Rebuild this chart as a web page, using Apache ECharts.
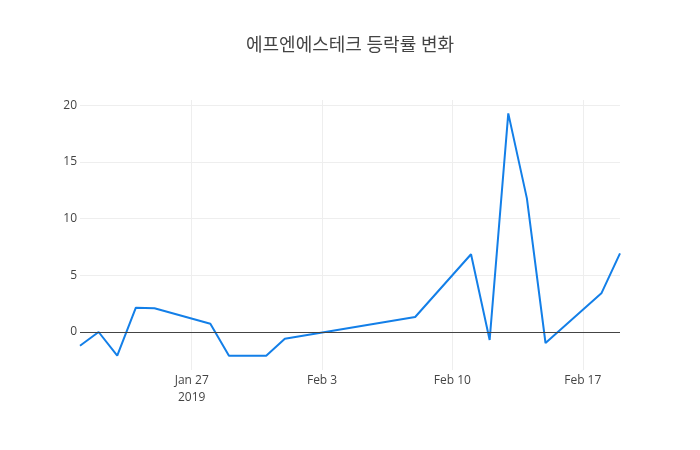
<!DOCTYPE html>
<html>
<head>
<meta charset="utf-8">
<script src="https://cdn.jsdelivr.net/npm/echarts@6/dist/echarts.min.js"></script>
<style>
html, body { margin: 0; padding: 0; background: #fff; }
#chart { width: 700px; height: 450px; }
</style>
</head>
<body>
<div id="chart"></div>
<script>
// trading days and daily change (%)
var dates = ['2019-01-21', '2019-01-22', '2019-01-23', '2019-01-24', '2019-01-25',
	'2019-01-28', '2019-01-29', '2019-01-30', '2019-01-31', '2019-02-01',
	'2019-02-08', '2019-02-11', '2019-02-12', '2019-02-13', '2019-02-14',
	'2019-02-15', '2019-02-18', '2019-02-19'];
var changes = [-1.21, 0.0, -2.09, 2.14, 2.09,
	0.73, -2.09, -2.09, -2.09, -0.59,
	1.32, 6.85, -0.70, 19.27, 11.78,
	-0.97, 3.41, 6.93];
var xTicks = ['2019-01-27', '2019-02-03', '2019-02-10', '2019-02-17'];
var yTicks = [0, 5, 10, 15, 20];
var monthNames = ['Jan', 'Feb', 'Mar', 'Apr', 'May', 'Jun', 'Jul', 'Aug', 'Sep', 'Oct', 'Nov', 'Dec'];

function toTime(s) {
	var p = s.split('-');
	return Date.UTC(+p[0], +p[1] - 1, +p[2]);
}

var seriesData = dates.map(function (d, i) { return [toTime(d), changes[i]]; });
var xTickTimes = xTicks.map(toTime);

var chart = echarts.init(document.getElementById('chart'));
chart.setOption({
	animation: false,
	title: {
		text: '에프엔에스테크 등락률 변화',
		left: 'center',
		top: 32,
		textStyle: {
			fontFamily: '"Open Sans", "Noto Sans CJK KR"',
			fontSize: 18,
			fontWeight: 'normal',
			color: '#444'
		}
	},
	grid: {
		left: 80,
		right: 80,
		top: 100,
		height: 270,
		containLabel: false
	},
	xAxis: {
		type: 'value',
		min: toTime('2019-01-21'),
		max: toTime('2019-02-19'),
		axisLine: { show: false },
		axisTick: { show: false, customValues: xTickTimes },
		splitLine: {
			show: true,
			lineStyle: { color: '#eee', width: 1 }
		},
		axisLabel: {
			customValues: xTickTimes,
			margin: 2,
			color: '#444',
			fontFamily: '"Open Sans"',
			fontSize: 12,
			lineHeight: 17,
			formatter: function (v) {
				var d = new Date(v);
				var s = monthNames[d.getUTCMonth()] + ' ' + d.getUTCDate();
				if (v === xTickTimes[0]) {
					s += '\n' + d.getUTCFullYear();
				}
				return s;
			}
		}
	},
	yAxis: {
		type: 'value',
		min: -3.35,
		max: 20.45,
		axisLine: { show: false },
		axisTick: { show: false, customValues: yTicks },
		splitLine: {
			show: true,
			lineStyle: { color: '#eee', width: 1 }
		},
		axisLabel: {
			customValues: yTicks,
			margin: 3,
			color: '#444',
			fontFamily: '"Open Sans"',
			fontSize: 12
		}
	},
	series: [{
		type: 'line',
		data: seriesData,
		symbol: 'none',
		lineStyle: { color: '#137fe8', width: 2 },
		markLine: {
			silent: true,
			symbol: 'none',
			label: { show: false },
			lineStyle: { color: '#444', width: 1, type: 'solid' },
			data: [{ yAxis: 0 }]
		}
	}]
});
</script>
</body>
</html>
